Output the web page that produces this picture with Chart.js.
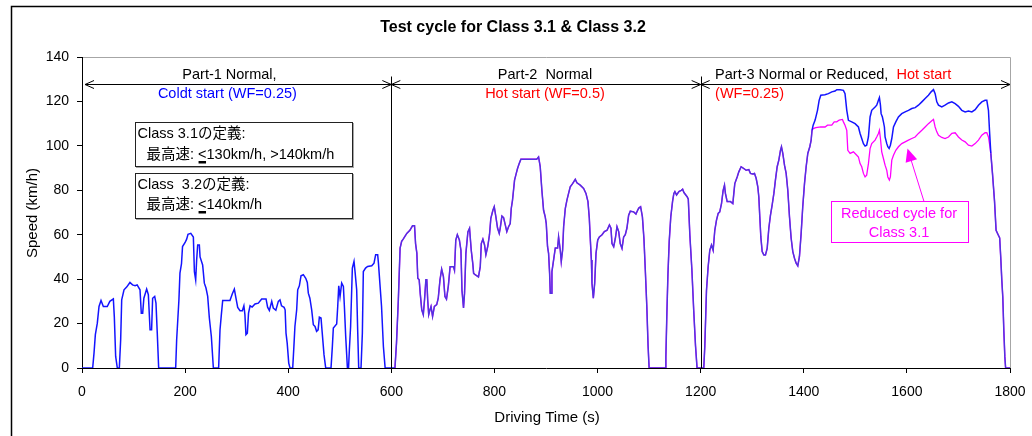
<!DOCTYPE html>
<html><head><meta charset="utf-8">
<script src="https://cdn.jsdelivr.net/npm/chart.js@4.4.0/dist/chart.umd.min.js"></script>
<style>html,body{margin:0;padding:0;background:#fff;}#wrap{width:1032px;height:436px;}</style>
</head><body><div id="wrap"><canvas id="c" width="1032" height="436" style="width:1032px;height:436px"></canvas></div>
<script>
// ---- data (time s, speed km/h) ----
const part1Cycle = [[0,0],[20.7,0],[23.3,6.7],[25.9,15],[29.7,20.2],[33,27.7],[36.9,30.4],[41.4,27.7],[49,27.7],[54,30],[60.8,31.1],[62.7,23],[65.3,5.2],[68.5,0],[72.4,0],[75,12.7],[77,30.7],[81.5,35.2],[86.6,36.4],[93,38.5],[98,37.4],[103,37],[107,37.4],[112.5,35.2],[115,24.7],[117.7,24.7],[120,31.4],[125.4,35.5],[128.7,33],[132,17.2],[135,17.2],[137,31.4],[141,32.2],[143.5,29.2],[146,15.7],[148.7,0],[181.7,0],[183.6,12.7],[188,30.7],[190,42.7],[193,47],[195,54.7],[200,56.5],[203,58],[205.6,60.2],[211,60.6],[216,59],[218,43.4],[220.5,39.7],[222.4,48.7],[224.4,55.4],[227.6,55.4],[229,50],[234,46.4],[237.3,38.2],[240.5,36],[243.8,32.2],[247,22.5],[250.9,14.2],[254.8,0],[265,0],[267.7,17.2],[270.3,24],[272.9,30.4],[287,30.4],[291.6,33.4],[295.5,35.5],[298,32.2],[302,27.3],[306.5,25.8],[311,25.8],[314,28],[316,24],[318,15],[320.7,15.7],[323,24.7],[326,28],[330,27.4],[335.6,28.8],[342,29.2],[348.5,31.1],[357,31.1],[360,27.4],[363.4,25.9],[368,30],[371,27],[376,26],[380.8,30],[384,30.7],[387,28],[392,27.3],[394,26.2],[395.7,15.7],[398,11.2],[401,2.2],[403.5,0],[408.7,0],[411,9.7],[413,18.7],[416.4,26.2],[418.4,35.2],[421.6,37],[424.8,41.5],[429.3,42],[434,40.4],[437,38.5],[439,33.7],[442,31.4],[445.5,26.2],[448.7,19.5],[452,18.7],[455,16.5],[458,17.2],[460.4,22.9],[463.6,22.5],[466,15.7],[469.4,6],[472.7,0],[483,0],[485.6,9.7],[487.5,18],[494,19.8],[496,27.7],[498,37],[500.5,32.2],[503.7,38.2],[507,36.7],[509,27.4],[511.5,14.2],[514.8,0],[517,0],[518.6,8.2],[521,18.7],[524.4,45],[527.6,48],[529.6,43.4],[532.8,35.2],[534.7,17.2],[536.7,0],[541.2,0],[543.8,15.7],[545.7,43.4],[550,45],[554,45.7],[562,46],[566.4,47.2],[569.6,51],[573.5,51],[575,47.2],[578,37.4],[581,27.7],[584.6,9.7],[588,0]];
const part2Cycle = [[607,0],[610,11.2],[613.6,30.7],[617,54],[620,57],[623,58],[630,60.6],[636,62],[641,64],[645,64],[647,56],[649.5,51.7],[651.3,40.4],[654,39.7],[656,33.7],[659,26.2],[662,24],[664.4,30.7],[667,39.7],[668.8,39.7],[670.5,30.7],[672.5,24],[675,26.2],[677,27.7],[680,23.2],[683.5,27.7],[688,28.5],[691,31.4],[694.4,39.7],[697.6,44.5],[701,41.2],[704,32.2],[707,31],[710.6,37],[714,45.6],[720.6,45.6],[722.5,44],[725,57.6],[728,60],[732,57.6],[735,53],[737,35],[740,27],[742,33.7],[744.6,51.6],[748.5,61.3],[751.7,62.9],[755,53],[758,47],[759.6,42.6],[762.6,42],[769,41],[772.5,45.6],[774.5,56],[777.6,58],[780.8,55.4],[783.4,51],[787,54.7],[790.4,60],[793,67.4],[797,71],[799.6,72.6],[802.8,68],[806,63],[809.3,60.6],[811.2,63],[814.5,68.4],[817.7,67.7],[821,64.4],[824,61.4],[827.4,63.6],[830.6,65],[832.6,71.8],[835,75.5],[837,80],[839,84.6],[842.3,87.6],[844.8,89.8],[848,92],[851.3,94],[882,94],[885.6,95],[888.8,90.6],[892,80],[895.3,71],[898.5,68],[900.5,65],[903,54.6],[905,51.6],[907,42.6],[908.3,33.7],[910.2,33.7],[911.5,43.4],[914.7,48.6],[918,54],[922.5,54],[924.4,59],[927.7,53],[929.6,47.9],[932.2,53],[934.2,63.6],[937.4,71.8],[940.6,75.6],[943.8,78.6],[947,81.6],[951.6,83],[956.8,84.9],[960,83.4],[966.5,82.3],[973,80.8],[977.5,78.6],[981.4,74.9],[984,67.4],[986,57.6],[988,48.6],[989.2,38.1],[991.8,31.4],[994.4,38.1],[997,51.6],[1000.3,57.6],[1003.5,59],[1008.7,60],[1013.2,61.4],[1018.4,62],[1023,64.4],[1026,62.9],[1028,56],[1031.3,54.6],[1034.5,58.4],[1037.7,63.6],[1041,61.4],[1044,56],[1047.4,53.8],[1050.6,59],[1053.8,60],[1057,63],[1060.3,68.8],[1063.5,70.6],[1070,70.3],[1074.5,69.3],[1077.7,71],[1080,72],[1083.5,72.6],[1087,68],[1090,58],[1093,42],[1095.5,28],[1098,10],[1100,0],[1131.5,0],[1132.5,5],[1134.5,25],[1136.5,42],[1139,57],[1142,68],[1145.5,75],[1148,78.6],[1150,79.4],[1153.3,77.9],[1157.8,79.4],[1162.4,80],[1165,80.5],[1167.5,79],[1174,77],[1176,76],[1179,60],[1183,44],[1186.5,26],[1190,10],[1193,0]];
const part3Cycle = [[1206,0],[1208,9.7],[1211.3,35],[1214.5,45.6],[1217.7,53],[1221,55.4],[1224.2,53],[1227.4,62],[1230.7,66.6],[1234,69.6],[1237,70.3],[1240.4,74],[1243.6,80],[1246.2,82.3],[1248,78.6],[1251.4,74.9],[1257.8,74.9],[1262.4,74],[1264.3,78.6],[1266.2,83],[1270.8,86],[1274,88.3],[1278.5,90.6],[1283.7,89.8],[1288.2,89],[1293.4,89.3],[1296.6,87.6],[1301,87.3],[1304.4,87.6],[1307.6,85.4],[1310.8,81.6],[1312.8,77],[1314.7,68],[1316.7,59],[1319.3,52.4],[1322.5,50.9],[1325.7,50.9],[1329,53.8],[1332.2,62.9],[1335.4,68.8],[1338.7,73.4],[1342,78.6],[1345,84.6],[1348.4,90.6],[1351.6,93.6],[1354.8,98],[1356.7,99.6],[1359.3,96.6],[1362.6,91.3],[1365.8,87.6],[1369,80],[1372.3,68],[1375.5,58.4],[1378.7,52.4],[1382,49.4],[1385.2,47.2],[1388.4,46],[1391.6,50.2],[1394.9,60.6],[1398,72.6],[1401.4,83],[1404.6,90.6],[1407.8,96.6],[1411.7,99.6],[1414.3,102.6],[1416,107],[1418.2,109.3],[1422,111.6],[1426.6,116],[1429.8,120.5],[1433,122.8],[1441,123],[1447.8,123.5],[1454.3,124.3],[1460.7,124.7],[1464,125.3],[1470.4,125.3],[1476.9,125],[1480,123.5],[1483.4,116],[1486.6,111.5],[1493,110.8],[1499.5,110],[1506,108.5],[1509.2,105.6],[1512.4,103.3],[1515.7,101],[1518.9,99.9],[1522,100.3],[1525.4,104],[1528.6,113],[1531.8,116],[1538.3,117.5],[1541.5,118.3],[1544.8,120.5],[1546.7,121.7],[1548.7,118.3],[1550,114.5],[1552.5,113],[1554.5,110.8],[1556.4,108.5],[1557.7,104],[1561,101],[1563,99.6],[1565.5,98.8],[1568,100.3],[1570.7,103.3],[1574,108.5],[1578.5,110.8],[1583.6,113],[1590,114.5],[1596.6,115.3],[1603,116],[1609.5,116.8],[1616,117.2],[1622.4,118.3],[1629,119.8],[1635.4,121.3],[1641.8,122.8],[1647,124.3],[1651.6,125.3],[1654.8,123.5],[1658,119.8],[1661.3,118.3],[1667.7,117.5],[1674,118.3],[1680.7,119.3],[1687.2,119.8],[1693.6,119],[1700,117.8],[1706.5,116],[1713,115.3],[1719.4,115.7],[1726,115.3],[1732.4,116.3],[1738.8,118.3],[1745.3,119.8],[1751.7,120.5],[1755,120.5],[1758.2,116],[1760.2,107],[1762.8,96.6],[1766,87.6],[1770,75],[1773,62],[1777,60],[1780,58.5],[1782,50],[1784,40],[1786,32],[1788,17],[1790,5],[1791.5,0],[1800,0]];
// Reduced cycle for Class 3.1 where it departs from the normal Part-3 trace
const reducedSegment = [[1416,107],[1418.2,107.8],[1423.4,108.2],[1433,108.5],[1441.3,108.5],[1446,109.3],[1454.3,109.3],[1459,110.8],[1464,110.8],[1468.7,111.6],[1475,111.9],[1476.9,110.8],[1480,109.3],[1483.4,107],[1485.4,98],[1489.9,96.6],[1496.3,97.3],[1502.8,95.8],[1506,95],[1509.2,92],[1512.4,90.6],[1515.7,87.6],[1518.9,86],[1522,86.8],[1525.4,92],[1528.6,98.8],[1531.8,101],[1538.3,102.6],[1541.5,104],[1544.8,105.6],[1546.7,107],[1548.7,103.3],[1551.2,97.3],[1554.5,94.3],[1557.7,91.3],[1561,89],[1563,86],[1566,84.6],[1568,86],[1570.7,93.6],[1574,95.8],[1578.5,98],[1583.6,99.6],[1590,101],[1596.6,101.8],[1603,102.6],[1609.5,103.3],[1616,104],[1622.4,105.6],[1629,107],[1635.4,108.5],[1641.8,110],[1648.3,111.3],[1651.6,111.9],[1654.8,108.5],[1658,106.3],[1661.3,104.8],[1667.7,103.8],[1674,103.3],[1680.7,104],[1687.2,105.6],[1693.6,105.9],[1700,104],[1706.5,102.6],[1713,101.8],[1719.4,100.3],[1726,99.9],[1732.4,101],[1738.8,102.6],[1745.3,104.8],[1751.7,105.9],[1755,105.9],[1758.2,104],[1760.2,101],[1762.8,96.6]];
const xTickValues = [0,200,400,600,800,1000,1200,1400,1600,1800];
const yTickValues = [0,20,40,60,80,100,120,140];
const partBounds = [0,600,1200,1800];
const partArrowSpeed = 128;

// ---- build datasets ----
const toPts = arr => arr.map(p => ({x:p[0], y:p[1]}));
const normalPts = toPts([...part1Cycle, ...part2Cycle, ...part3Cycle]);
const redStart = reducedSegment[0][0], redEnd = reducedSegment[reducedSegment.length-1][0];
const reducedPts = [
  ...toPts([...part2Cycle, ...part3Cycle].filter(p => p[0] < redStart)),
  ...toPts(reducedSegment),
  ...toPts(part3Cycle.filter(p => p[0] > redEnd))
];

const BLUE = '#1414ff', PURPLE = '#5232e0', MAGENTA = '#ff00ff';
const FONT = '"Liberation Sans", Arial, "Noto Sans CJK JP", sans-serif';

const annot = {
  id: 'annot',
  afterDraw(chart) {
    const ctx = chart.ctx, a = chart.chartArea, xs = chart.scales.x, ys = chart.scales.y;
    ctx.save();
    // outer frame
    ctx.strokeStyle = '#000'; ctx.lineWidth = 1.5;
    ctx.beginPath(); ctx.moveTo(11.5, 440); ctx.lineTo(11.5, 6.5); ctx.lineTo(1040, 6.5); ctx.stroke();
    // plot area top/right border
    ctx.strokeStyle = '#a6a6a6'; ctx.lineWidth = 1;
    ctx.beginPath(); ctx.moveTo(a.left + 1, a.top + 0.5); ctx.lineTo(a.right + 0.5, a.top + 0.5); ctx.lineTo(a.right + 0.5, a.bottom); ctx.stroke();
    // title
    ctx.fillStyle = '#000'; ctx.textBaseline = 'middle'; ctx.textAlign = 'center';
    ctx.font = 'bold 16px ' + FONT;
    ctx.fillText('Test cycle for Class 3.1 & Class 3.2', 513, 28);
    // axis titles
    ctx.font = '15px ' + FONT;
    ctx.fillText('Driving Time (s)', 547, 418);
    ctx.save(); ctx.translate(33, 213); ctx.rotate(-Math.PI/2); ctx.fillText('Speed (km/h)', 0, 0); ctx.restore();

    // part arrows
    const ay = Math.round(ys.getPixelForValue(partArrowSpeed)) + 0.5;
    ctx.strokeStyle = '#000'; ctx.lineWidth = 1;
    const head = (x, dir) => { ctx.moveTo(x + dir*9, ay - 4); ctx.lineTo(x, ay); ctx.lineTo(x + dir*9, ay + 4); };
    for (let i = 0; i < partBounds.length - 1; i++) {
      const x0 = xs.getPixelForValue(partBounds[i]) + (i === 0 ? 3 : 0);
      const x1 = xs.getPixelForValue(partBounds[i+1]);
      ctx.beginPath(); ctx.moveTo(x0, ay); ctx.lineTo(x1, ay); head(x0, 1); head(x1, -1); ctx.stroke();
    }
    for (let i = 1; i < partBounds.length - 1; i++) {
      const x = Math.round(xs.getPixelForValue(partBounds[i])) + 0.5;
      ctx.beginPath(); ctx.moveTo(x, ay - 8); ctx.lineTo(x, ys.getPixelForValue(0)); ctx.stroke();
    }

    // part labels
    ctx.font = '14.5px ' + FONT; ctx.textAlign = 'center';
    const ly1 = ys.getPixelForValue(131.8), ly2 = ys.getPixelForValue(123.2);
    ctx.fillStyle = '#000'; ctx.fillText('Part-1 Normal,', xs.getPixelForValue(286), ly1);
    ctx.fillStyle = '#0000ff'; ctx.fillText('Coldt start (WF=0.25)', xs.getPixelForValue(282), ly2);
    ctx.fillStyle = '#000'; ctx.fillText('Part-2  Normal', xs.getPixelForValue(898), ly1);
    ctx.fillStyle = '#ff0000'; ctx.fillText('Hot start (WF=0.5)', xs.getPixelForValue(898), ly2);
    ctx.textAlign = 'left';
    const p3x = xs.getPixelForValue(1228);
    const p3txt = 'Part-3 Normal or Reduced,  ';
    ctx.fillStyle = '#000'; ctx.fillText(p3txt, p3x, ly1);
    ctx.fillStyle = '#ff0000'; ctx.fillText('Hot start', p3x + ctx.measureText(p3txt).width, ly1);
    ctx.fillText('(WF=0.25)', p3x, ly2);

    // definition boxes
    const drawBox = (x, y, w, h, color) => {
      ctx.strokeStyle = color; ctx.lineWidth = 1;
      ctx.strokeRect(x + 0.5, y + 0.5, w, h);
    };
    ctx.fillStyle = 'rgba(0,0,0,0.35)';
    ctx.fillRect(136, 167, 217, 1); ctx.fillRect(353, 123, 1, 45);
    ctx.fillRect(136, 219, 217, 1); ctx.fillRect(353, 174, 1, 46);
    drawBox(135, 122, 217, 44, '#222');
    drawBox(135, 173, 217, 45, '#222');
    ctx.fillStyle = '#000'; ctx.textAlign = 'left'; ctx.font = '14.5px ' + FONT;
    const line2 = (y, rest) => {
      let x = 146.5;
      ctx.fillText('最高速: ', x, y); x += ctx.measureText('最高速: ').width;
      ctx.fillText('<', x, y); const w = ctx.measureText('<').width;
      ctx.fillRect(x + 0.5, y + 6, w - 1, 2.5);
      ctx.fillText(rest, x + w, y);
    };
    ctx.fillText('Class 3.1の定義:', 137.5, 134);
    line2(155, '130km/h, >140km/h');
    ctx.fillText('Class  3.2の定義:', 137.5, 185);
    line2(205, '140km/h');

    // reduced cycle callout
    drawBox(831, 201, 137, 41, MAGENTA);
    ctx.fillStyle = MAGENTA; ctx.textAlign = 'center';
    ctx.fillText('Reduced cycle for', 899, 213.5);
    ctx.fillText('Class 3.1', 899, 233);
    const tx = 907.5, ty = 148.5, bx = 924, by = 201.5;
    const ang = Math.atan2(by - ty, bx - tx);
    ctx.strokeStyle = MAGENTA; ctx.lineWidth = 1;
    ctx.beginPath(); ctx.moveTo(bx, by); ctx.lineTo(tx + Math.cos(ang)*10, ty + Math.sin(ang)*10); ctx.stroke();
    ctx.beginPath(); ctx.moveTo(tx, ty);
    ctx.lineTo(tx + Math.cos(ang)*13 - Math.sin(ang)*6, ty + Math.sin(ang)*13 + Math.cos(ang)*6);
    ctx.lineTo(tx + Math.cos(ang)*13 + Math.sin(ang)*6, ty + Math.sin(ang)*13 - Math.cos(ang)*6);
    ctx.closePath(); ctx.fill();
    ctx.restore();
  }
};

const overlap = x => x >= 600 && (x < redStart || x >= redEnd);

new Chart(document.getElementById('c'), {
  type: 'line',
  data: {
    datasets: [
      { label: 'Normal cycle', data: normalPts, borderColor: BLUE, borderWidth: 1.5, pointRadius: 0, tension: 0,
        segment: { borderColor: c => overlap(c.p0.parsed.x) ? PURPLE : BLUE } },
      { label: 'Reduced cycle for Class 3.1', data: reducedPts, borderColor: MAGENTA, borderWidth: 1.3, pointRadius: 0, tension: 0 }
    ]
  },
  options: {
    responsive: false, devicePixelRatio: 1, animation: false,
    layout: { padding: { left: 0, right: 22, top: 57, bottom: 0 } },
    plugins: { legend: { display: false }, tooltip: { enabled: false }, title: { display: false } },
    scales: {
      x: { type: 'linear', min: 0, max: 1800,
        afterBuildTicks: s => { s.ticks = xTickValues.map(v => ({ value: v })); },
        afterFit: s => { s.height = 68; s.paddingRight = 0; s.paddingLeft = 0; },
        grid: { drawOnChartArea: false, drawTicks: true, tickLength: 5, color: '#000' },
        border: { display: true, color: '#000', width: 1 },
        ticks: { color: '#000', font: { family: FONT, size: 14 }, padding: 11, maxRotation: 0, autoSkip: false,
          callback: v => String(v) } },
      y: { min: 0, max: 140,
        afterBuildTicks: s => { s.ticks = yTickValues.map(v => ({ value: v })); },
        afterFit: s => { s.width = 82; s.paddingTop = 0; s.paddingBottom = 0; },
        grid: { drawOnChartArea: false, drawTicks: true, tickLength: 5, color: '#000' },
        border: { display: true, color: '#000', width: 1 },
        ticks: { color: '#000', font: { family: FONT, size: 14 }, padding: 8, autoSkip: false,
          callback: v => String(v) } }
    }
  },
  plugins: [annot]
});
</script>
</body></html>
